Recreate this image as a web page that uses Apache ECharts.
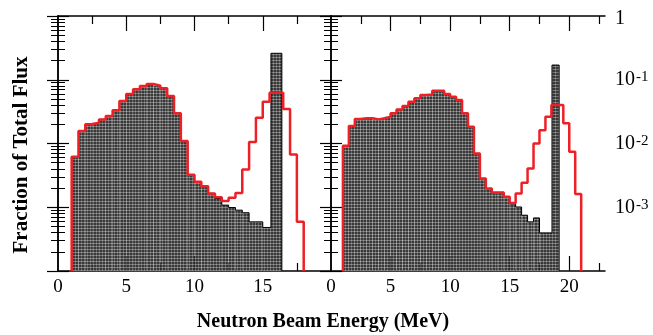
<!DOCTYPE html>
<html>
<head>
<meta charset="utf-8">
<script src="https://cdn.jsdelivr.net/npm/echarts@6/dist/echarts.min.js"></script>
<style>
  html, body { margin: 0; padding: 0; background: #fff; }
  #main { width: 653px; height: 335px; }
</style>
</head>
<body>
<div id="main"></div>
<script>
// left panel (0.5 MeV bins)
const leftRedEdges = [1, 1.5, 2, 2.5, 3, 3.5, 4, 4.5, 5, 5.5, 6, 6.5, 7, 7.5, 8, 8.5, 9, 9.5, 10, 10.5, 11, 11.5, 12, 12.5, 13, 13.5, 14, 14.5, 15, 15.5, 16, 16.5, 17, 17.5, 18];
const leftRed = [6.18e-3, 1.57e-2, 2.0e-2, 2.11e-2, 2.39e-2, 2.69e-2, 3.31e-2, 4.63e-2, 5.97e-2, 7.07e-2,
  7.96e-2, 8.57e-2, 8.05e-2, 7.33e-2, 5.55e-2, 2.97e-2, 1.09e-2, 3.23e-3, 2.51e-3, 2.14e-3,
  1.65e-3, 1.43e-3, 1.25e-3, 1.41e-3, 1.68e-3, 3.92e-3, 1.06e-2, 2.53e-2, 4.52e-2, 6.25e-2,
  6.25e-2, 3.47e-2, 6.75e-3, 5.9e-4];
const leftGrayEdges = [1, 1.5, 2, 2.5, 3, 3.5, 4, 4.5, 5, 5.5, 6, 6.5, 7, 7.5, 8, 8.5, 9, 9.5, 10, 10.5, 11, 11.5, 12, 12.5, 13, 13.5, 14, 14.5, 15, 15.6, 16.4];
const leftGray = [6.18e-3, 1.57e-2, 2.0e-2, 2.11e-2, 2.39e-2, 2.69e-2, 3.31e-2, 4.63e-2, 5.97e-2, 7.07e-2,
  7.96e-2, 8.57e-2, 8.05e-2, 7.33e-2, 5.55e-2, 2.97e-2, 1.09e-2, 3.23e-3, 2.51e-3, 2.14e-3,
  1.65e-3, 1.37e-3, 1.08e-3, 9.9e-4, 9.0e-4, 8.2e-4, 5.9e-4, 5.9e-4, 4.82e-4, 0.26];

// right panel
const rightRedEdges = [1, 1.5, 2, 2.5, 3, 3.5, 4, 4.5, 5, 5.5, 6, 6.5, 7, 7.5, 8, 8.5, 9, 9.5, 10, 10.5, 11, 11.5, 12, 12.5, 13, 13.5, 14, 14.5, 15, 15.5, 16, 16.5, 17, 17.5, 18, 18.5, 19, 19.5, 20, 20.5, 21];
const rightRed = [9.2e-3, 1.88e-2, 2.42e-2, 2.48e-2, 2.48e-2, 2.39e-2, 2.48e-2, 2.63e-2, 2.97e-2, 3.43e-2,
  3.86e-2, 4.52e-2, 5.11e-2, 5.75e-2, 5.89e-2, 6.73e-2, 6.73e-2, 5.97e-2, 5.42e-2, 4.80e-2,
  2.97e-2, 1.83e-2, 6.99e-3, 2.83e-3, 1.97e-3, 1.71e-3, 1.71e-3, 1.46e-3, 1.17e-3, 1.64e-3,
  2.42e-3, 4.06e-3, 1.0e-2, 1.62e-2, 2.63e-2, 4.01e-2, 4.01e-2, 2.07e-2, 7.41e-3, 1.61e-3];
const rightGrayEdges = [1, 1.5, 2, 2.5, 3, 3.5, 4, 4.5, 5, 5.5, 6, 6.5, 7, 7.5, 8, 8.5, 9, 9.5, 10, 10.5, 11, 11.5, 12, 12.5, 13, 13.5, 14, 14.5, 15, 15.5, 16, 16.5, 17, 17.5, 18.55, 19.15];
const rightGray = [9.2e-3, 1.88e-2, 2.42e-2, 2.48e-2, 2.48e-2, 2.39e-2, 2.48e-2, 2.63e-2, 2.97e-2, 3.43e-2,
  3.86e-2, 4.52e-2, 5.11e-2, 5.75e-2, 5.89e-2, 6.73e-2, 6.73e-2, 5.97e-2, 5.42e-2, 4.80e-2,
  2.97e-2, 1.83e-2, 6.99e-3, 2.83e-3, 1.97e-3, 1.71e-3, 1.71e-3, 1.46e-3, 1.13e-3, 1.01e-3,
  7.5e-4, 5.9e-4, 6.8e-4, 3.96e-4, 0.17];

// axis ticks / labels
const leftXLabels = [0, 5, 10, 15];
const rightXLabels = [0, 5, 10, 15, 20];
const leftXMajor = [5, 10, 15];
const leftXMinor = [2.5, 7.5, 12.5, 17.5];
const rightXMajor = [5, 10, 15, 20];
const rightXMinor = [2.5, 7.5, 12.5, 17.5, 22.5];
const yDecades = [1e-4, 1e-3, 1e-2, 1e-1, 1];
const yLabels = [1e-3, 1e-2, 1e-1, 1];

const YMIN = 1e-4, YMAX = 1;
const serif = 'Liberation Serif';

const yMinor = [];
for (let d = -4; d < 0; d++) {
  for (let k = 2; k <= 9; k++) yMinor.push(k * Math.pow(10, d));
}

// hatch-like fill for the gray histogram
const tile = document.createElement('canvas');
tile.width = 3; tile.height = 3;
const tctx = tile.getContext('2d');
tctx.fillStyle = '#383838'; tctx.fillRect(0, 0, 3, 3);
tctx.fillStyle = '#767676'; tctx.fillRect(0, 0, 3, 1);
tctx.fillStyle = '#666666'; tctx.fillRect(0, 0, 1, 3);
tctx.fillStyle = '#999999'; tctx.fillRect(0, 0, 1, 1);
const hatch = { image: tile, repeat: 'repeat' };

const chart = echarts.init(document.getElementById('main'));

function xAxes(grid, max, labels, majors, minors) {
  const base = { gridIndex: grid, type: 'value', min: 0, max: max, splitLine: { show: false } };
  const line = { show: true, lineStyle: { color: '#000', width: 1.5 } };
  return [
    Object.assign({}, base, {
      position: 'bottom', axisLine: line,
      axisTick: { inside: true, length: 15, customValues: majors, lineStyle: { color: '#000', width: 1.2 } },
      axisLabel: { customValues: labels, fontFamily: serif, fontSize: 19, color: '#000', margin: 7 }
    }),
    Object.assign({}, base, {
      position: 'bottom', axisLine: { show: false },
      axisTick: { inside: true, length: 8, customValues: minors, lineStyle: { color: '#000', width: 1.2 } },
      axisLabel: { show: false }
    }),
    Object.assign({}, base, {
      position: 'top', axisLine: line,
      axisTick: { inside: true, length: 15, customValues: majors, lineStyle: { color: '#000', width: 1.2 } },
      axisLabel: { show: false }
    }),
    Object.assign({}, base, {
      position: 'top', axisLine: { show: false },
      axisTick: { inside: true, length: 8, customValues: minors, lineStyle: { color: '#000', width: 1.2 } },
      axisLabel: { show: false }
    })
  ];
}

function yAxes(grid, withLabels) {
  const base = { gridIndex: grid, type: 'log', logBase: 10, min: YMIN, max: YMAX, splitLine: { show: false } };
  const line = { show: true, lineStyle: { color: '#000', width: 1.5 } };
  const out = [];
  ['left', 'right'].forEach(function (pos) {
    const major = Object.assign({}, base, {
      position: pos, axisLine: line,
      axisTick: { inside: true, length: 11, customValues: yDecades, lineStyle: { color: '#000', width: 1.2 } },
      axisLabel: { show: false }
    });
    if (withLabels && pos === 'right') {
      major.axisLabel = {
        show: true, customValues: yLabels, margin: 10, color: '#000', align: 'left',
        fontFamily: serif, fontSize: 20,
        formatter: function (v) {
          if (v > 0.5) return '{o|1}';
          return '{n|10}{s|' + Math.round(Math.log10(v)) + '}';
        },
        rich: {
          o: { fontFamily: serif, fontSize: 20, color: '#000', lineHeight: 20, padding: [6, 0, 0, 0] },
          n: { fontFamily: serif, fontSize: 20, color: '#000', lineHeight: 20, verticalAlign: 'bottom', padding: [7, 0, 0, 0] },
          s: { fontFamily: serif, fontSize: 15, color: '#000', lineHeight: 15, verticalAlign: 'top', padding: [0, 0, 0, 1] }
        }
      };
    }
    out.push(major);
    out.push(Object.assign({}, base, {
      position: pos, axisLine: { show: false },
      axisTick: { inside: true, length: 7, customValues: yMinor, lineStyle: { color: '#000', width: 1 } },
      axisLabel: { show: false }
    }));
  });
  return out;
}

function stepPoints(edges, vals) {
  const pts = [[edges[0], YMIN]];
  vals.forEach(function (v, i) { pts.push([edges[i], v]); });
  pts.push([edges[edges.length - 1], vals[vals.length - 1]]);
  pts.push([edges[edges.length - 1], YMIN]);
  return pts;
}

function bins(edges, vals) {
  return vals.map(function (v, i) { return [edges[i], edges[i + 1], v]; });
}

function grayBars(xi, yi, edges, vals) {
  return {
    type: 'custom', xAxisIndex: xi, yAxisIndex: yi, clip: true, z: 2,
    encode: { x: [0, 1], y: 2 },
    data: bins(edges, vals),
    renderItem: function (params, api) {
      const a = api.coord([api.value(0), api.value(2)]);
      const b = api.coord([api.value(1), YMIN]);
      return {
        type: 'rect',
        shape: { x: a[0], y: a[1], width: b[0] - a[0], height: b[1] - a[1] },
        style: { fill: hatch }
      };
    }
  };
}

function stepLine(xi, yi, edges, vals, color, width, z) {
  return {
    type: 'line', xAxisIndex: xi, yAxisIndex: yi, step: 'end', z: z,
    symbol: 'none', silent: true, animation: false,
    lineStyle: { color: color, width: width },
    data: stepPoints(edges, vals)
  };
}

const option = {
  animation: false,
  grid: [
    { left: 58, top: 16, width: 273, height: 255 },
    { left: 331, top: 16, width: 274, height: 255 }
  ],
  xAxis: xAxes(0, 20, leftXLabels, leftXMajor, leftXMinor)
    .concat(xAxes(1, 23, rightXLabels, rightXMajor, rightXMinor)),
  yAxis: yAxes(0, false).concat(yAxes(1, true)),
  series: [
    grayBars(0, 0, leftGrayEdges, leftGray),
    stepLine(0, 0, leftGrayEdges, leftGray, '#000', 1, 3),
    stepLine(0, 0, leftRedEdges, leftRed, '#ee2026', 2.5, 4),
    grayBars(4, 4, rightGrayEdges, rightGray),
    stepLine(4, 4, rightGrayEdges, rightGray, '#000', 1, 3),
    stepLine(4, 4, rightRedEdges, rightRed, '#ee2026', 2.5, 4)
  ],
  graphic: [
    {
      type: 'text', x: 323, y: 322,
      style: { text: 'Neutron Beam Energy (MeV)', align: 'center', verticalAlign: 'middle',
        fontFamily: serif, fontSize: 20, fontWeight: 'bold', fill: '#000' }
    },
    {
      type: 'text', x: 22, y: 155, rotation: Math.PI / 2,
      style: { text: 'Fraction of Total Flux', align: 'center', verticalAlign: 'middle',
        fontFamily: serif, fontSize: 21, fontWeight: 'bold', fill: '#000' }
    }
  ]
};

chart.setOption(option);
</script>
</body>
</html>
